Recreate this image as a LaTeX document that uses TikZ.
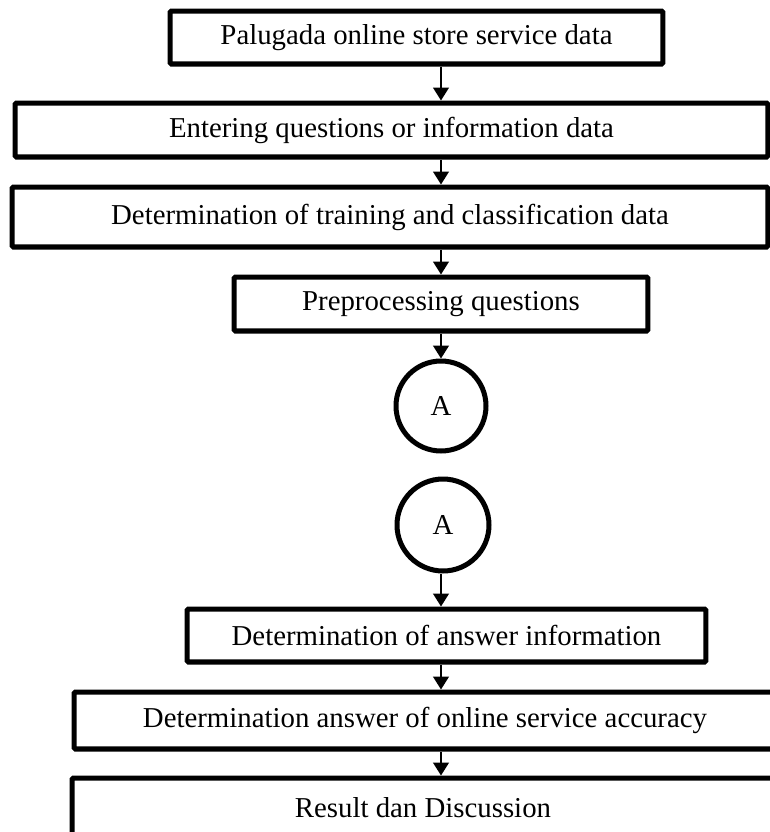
\documentclass[tikz,border=0pt]{standalone}
\usepackage{fontspec}
\setmainfont{Liberation Serif}
\usetikzlibrary{arrows.meta}
\definecolor{ink}{gray}{0}
\tikzset{
  stp/.style={draw=ink, line width=2.85pt, rounded corners=0.8pt, minimum height=1.08cm, inner sep=2pt, align=center},
  con/.style={draw=ink, circle, line width=2.85pt, minimum size=1.8cm, inner sep=0pt},
  flw/.style={draw=ink, line width=1.1pt, -{Triangle[length=7.4pt, width=9pt]}}}

\begin{document}
\begin{tikzpicture}[x=0.02cm, y=-0.02cm, font=\fontsize{16.4}{19}\selectfont]
\clip (0,0) rectangle (770,832);
\node[stp, minimum width=9.86cm, minimum height=1.06cm] (src) at (416.5,37.5) {Palugada online store service data};
\node[stp, minimum width=15.06cm] (inp) at (391.5,130) {Entering questions or information data};
\node[stp, minimum width=15.12cm, minimum height=1.2cm] (trn) at (390,217) {Determination of training and classification data};
\node[stp, minimum width=8.28cm] (pre) at (441,304) {Preprocessing questions};
\node[con] (a1) at (441,406) {A};
\node[con, minimum size=1.84cm] (a2) at (443,525) {A};
\node[stp, minimum width=10.38cm, minimum height=1.06cm] (ans) at (446.5,635.5) {Determination of answer information};
\node[stp, minimum width=14.04cm, minimum height=1.14cm] (acc) at (425,720.5) {Determination answer of online service accuracy};
\node[stp, minimum width=14.04cm, minimum height=1.2cm] (res) at (423,808) {Result dan Discussion};
% flow
\draw[flw] (src.south -| a1) -- (inp.north -| a1);
\draw[flw] (inp.south -| a1) -- (trn.north -| a1);
\draw[flw] (trn.south -| a1) -- (pre.north -| a1);
\draw[flw] (pre.south -| a1) -- (a1.north);
\draw[flw] (a2.south -| a1) -- (ans.north -| a1);
\draw[flw] (ans.south -| a1) -- (acc.north -| a1);
\draw[flw] (acc.south -| a1) -- (res.north -| a1);
\end{tikzpicture}
\end{document}
